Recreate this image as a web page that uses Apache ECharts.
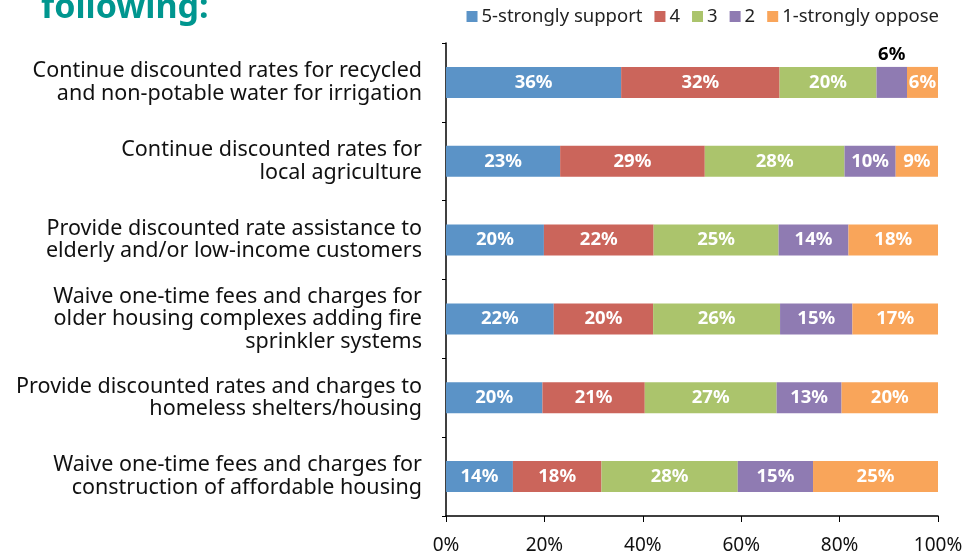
<!DOCTYPE html>
<html>
<head>
<meta charset="utf-8">
<script src="https://cdn.jsdelivr.net/npm/echarts@6/dist/echarts.min.js"></script>
<style>
  html, body { margin: 0; padding: 0; background: #fff; }
  #chart { width: 969px; height: 560px; }
</style>
</head>
<body>
<div id="chart"></div>
<script>
// categories, top to bottom
const categories = [
  'Continue discounted rates for recycled\nand non-potable water for irrigation',
  'Continue discounted rates for\nlocal agriculture',
  'Provide discounted rate assistance to\nelderly and/or low-income customers',
  'Waive one-time fees and charges for\nolder housing complexes adding fire\nsprinkler systems',
  'Provide discounted rates and charges to\nhomeless shelters/housing',
  'Waive one-time fees and charges for\nconstruction of affordable housing'
]

// share of responses (%), one array per rating
const support5 = [35.6, 23.2, 19.9, 21.9, 19.6, 13.6]
const rating4 = [32.2, 29.4, 22.3, 20.2, 20.8, 18.0]
const rating3 = [19.7, 28.4, 25.4, 25.8, 26.8, 27.7]
const rating2 = [6.2, 10.4, 14.2, 14.7, 13.2, 15.3]
const oppose1 = [6.3, 8.6, 18.2, 17.4, 19.6, 25.4]

const seriesNames = ['5-strongly support', '4', '3', '2', '1-strongly oppose']
const colors = ['#5b93c7', '#cb655b', '#abc46c', '#8f7bb2', '#f9a55a']
const xTicks = [0, 20, 40, 60, 80, 100]

const font = '"Noto Sans", "Open Sans", sans-serif'

const chart = echarts.init(document.getElementById('chart'))

const makeSeries = (name, values, idx) => ({
  name: name,
  type: 'bar',
  stack: 'total',
  barWidth: 31,
  itemStyle: { color: colors[idx] },
  label: {
    show: true,
    position: 'inside',
    color: '#fff',
    fontWeight: 'bold',
    fontSize: 18.5,
    fontFamily: font,
    formatter: p => Math.round(p.value) + '%'
  },
  data: values.map((v, i) => {
    // the thin purple slice in the first bar gets its label above it
    if (idx === 3 && i === 0) {
      return {
        value: v,
        label: { position: 'top', distance: 3, color: '#000' }
      }
    }
    return v
  })
})

const option = {
  animation: false,
  textStyle: { fontFamily: font },
  title: {
    text: 'following:',
    left: 36,
    top: -14,
    textStyle: { color: '#00968f', fontSize: 34, fontWeight: 'bold', fontFamily: font }
  },
  color: colors,
  legend: {
    data: seriesNames,
    right: 25,
    top: 2,
    itemWidth: 11,
    itemHeight: 11,
    itemGap: 12,
    icon: 'rect',
    textStyle: { fontSize: 18.5, color: '#222', fontFamily: font, padding: [0, 0, 0, -1] }
  },
  grid: {
    left: 446,
    right: 31,
    top: 43,
    bottom: 44
  },
  xAxis: {
    type: 'value',
    min: 0,
    max: 100,
    interval: 20,
    axisLine: { show: true, lineStyle: { color: '#000', width: 1.5 } },
    axisTick: { show: true, length: 6, lineStyle: { color: '#000' } },
    splitLine: { show: false },
    axisLabel: {
      color: '#111',
      fontSize: 19,
      margin: 20,
      fontFamily: font,
      formatter: v => (xTicks.includes(v) ? v + '%' : '')
    }
  },
  yAxis: {
    type: 'category',
    inverse: true,
    data: categories,
    axisLine: { show: true, lineStyle: { color: '#000', width: 1.5 } },
    axisTick: { show: true, length: 4, lineStyle: { color: '#000' } },
    axisLabel: {
      color: '#111',
      fontSize: 21.5,
      lineHeight: 22.5,
      align: 'right',
      margin: 24,
      fontFamily: font
    }
  },
  series: [
    makeSeries(seriesNames[0], support5, 0),
    makeSeries(seriesNames[1], rating4, 1),
    makeSeries(seriesNames[2], rating3, 2),
    makeSeries(seriesNames[3], rating2, 3),
    makeSeries(seriesNames[4], oppose1, 4)
  ]
}

chart.setOption(option)
</script>
</body>
</html>
